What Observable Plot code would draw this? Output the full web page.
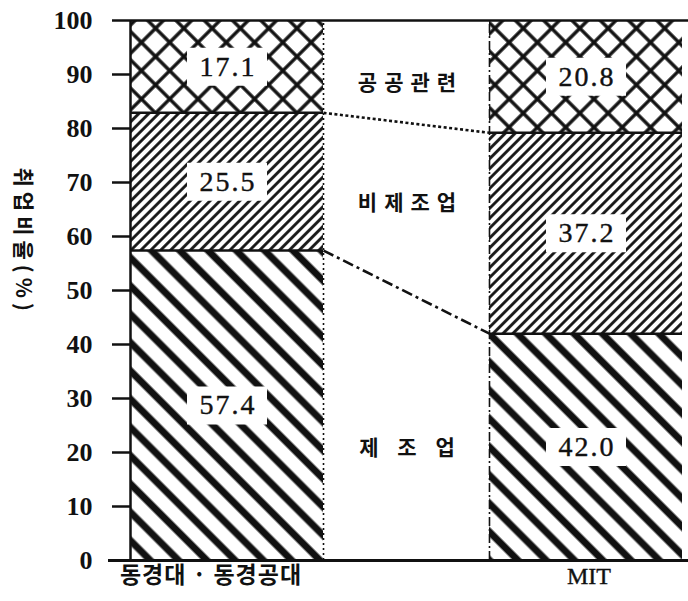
<!DOCTYPE html>
<html><head><meta charset="utf-8">
<script src="https://cdn.jsdelivr.net/npm/d3@7"></script>
<script src="https://cdn.jsdelivr.net/npm/@observablehq/plot@0.6"></script>
<style>body{margin:0;background:#fff}#chart svg{display:block}</style>
</head><body><div id="chart"></div>
<script>
// ---- data ----
const schools = ["동경대 · 동경공대", "MIT"];
const sectors = ["제 조 업", "비제조업", "공공관련"];
const manufacturing = [57.4, 42.0];
const nonManufacturing = [25.5, 37.2];
const publicRelated = [17.1, 20.8];
const yTicks = [0, 10, 20, 30, 40, 50, 60, 70, 80, 90, 100];
const yLabel = "취업비율(%)";

// ---- derived tables ----
const series = [manufacturing, nonManufacturing, publicRelated];
const gap = 0.86; // layout: gap between the two bars in bar widths
const rows = [];
schools.forEach((school, i) => {
  let cum = 0;
  series.forEach((vals, j) => {
    const v = vals[i];
    rows.push({school, sector: sectors[j], i, j,
      x1: i * (1 + gap), x2: i * (1 + gap) + 1, y1: cum, y2: cum + v, value: v});
    cum += v;
  });
});
const seg = (i, j) => rows.find(r => r.i === i && r.j === j);
const links = [0, 1].map(j => ({j, x1: 1, x2: 1 + gap, y1: seg(0, j).y2, y2: seg(1, j).y2}));
const mids = sectors.map((s, j) => ({
  sector: s, j, x: 1 + gap / 2,
  y: ((seg(0, j).y1 + seg(0, j).y2) / 2 + (seg(1, j).y1 + seg(1, j).y2) / 2) / 2
}));
const schoolPos = schools.map((s, i) => ({school: s, i, x: i * (1 + gap) + 0.5}));

// ---- styles ----
const patternIds = ["pat-m", "pat-n", "pat-p"];
const midOffsets = [22, -4, 12];
const linkDash = ["11,4,3,4", "3,2.5"];
const serif = "'Liberation Serif', 'DejaVu Serif', serif";
const kr = "'Noto Sans CJK KR', sans-serif";
const boxSymbol = {draw(ctx) { ctx.rect(-40, -19, 80, 38); }};
const spacing = {"values": 2, "mid": 7, "ylabel": 5, "school": 1};

const marks = [];
sectors.forEach((s, j) => {
  marks.push(Plot.rect(rows.filter(r => r.j === j), {x1: "x1", x2: "x2", y1: "y1", y2: "y2", fill: `url(#${patternIds[j]})`}));
});
marks.push(
  Plot.ruleY(rows.filter(r => r.j < 2), {y: "y2", x1: "x1", x2: "x2", strokeWidth: 2.5}),
  Plot.ruleX([1], {y1: 0, y2: 100, strokeWidth: 1.6, strokeDasharray: "2,3"}),
  Plot.ruleX([1 + gap], {y1: 0, y2: 100, strokeWidth: 1.6, strokeDasharray: "9,3,2,3"}),
  Plot.ruleX([0], {y1: 0, y2: 100, strokeWidth: 2.5}),
  Plot.ruleY([100], {strokeWidth: 2.5, insetRight: -6}),
  Plot.ruleY([0], {strokeWidth: 2.8, insetLeft: -22, insetRight: -6}),
  ...links.map(l => Plot.link([l], {x1: "x1", x2: "x2", y1: "y1", y2: "y2", strokeWidth: 2.6, strokeDasharray: linkDash[l.j]})),
  Plot.dot(rows, {x: d => (d.x1 + d.x2) / 2, y: d => (d.y1 + d.y2) / 2, symbol: boxSymbol, fill: "white", stroke: null, r: 10}),
  Plot.text(rows, {x: d => (d.x1 + d.x2) / 2, y: d => (d.y1 + d.y2) / 2, text: d => d.value.toFixed(1),
    dx: 1, fontFamily: serif, fontSize: 28, fill: "#111", stroke: "#111", strokeWidth: 0.4, ariaLabel: () => "values"}),
  ...mids.map(m => Plot.text([m], {x: "x", y: "y", text: "sector", dy: midOffsets[m.j], dx: 4,
    fontFamily: kr, fontWeight: "bold", fontSize: 21, fill: "#111", ariaLabel: () => "mid"})),
  Plot.text(schoolPos.filter(d => d.i === 0), {x: "x", frameAnchor: "bottom", dy: 22, dx: -16, text: "school",
    fontFamily: kr, fontWeight: "bold", fontSize: 23, fill: "#111", ariaLabel: () => "school"}),
  Plot.text(schoolPos.filter(d => d.i === 1), {x: "x", frameAnchor: "bottom", dy: 23, dx: 3, text: "school",
    fontFamily: serif, fontSize: 24, fill: "#111", stroke: "#111", strokeWidth: 0.4}),
  Plot.text([yLabel], {frameAnchor: "left", dx: -108, dy: -123, rotate: 90, text: d => d,
    fontFamily: kr, fontWeight: "bold", fontSize: 21, fill: "#111", ariaLabel: () => "ylabel"}),
  Plot.axisY(yTicks, {tickSize: 18, tickPadding: 20, strokeWidth: 2.5, fontFamily: serif, fontWeight: "bold",
    fontSize: 26, fill: "#111", label: null})
);

const plot = Plot.plot({
  width: 688, height: 601,
  marginTop: 20, marginBottom: 41, marginLeft: 130, marginRight: 6,
  x: {domain: [0, 2 + gap], axis: null},
  y: {domain: [0, 100], axis: null},
  style: {background: "white", color: "#111", overflow: "visible"},
  marks
});

// pattern definitions
const svg = d3.select(plot);
const defs = svg.insert("defs", ":first-child");
function hatch(id, size, angle, sw) {
  const p = defs.append("pattern").attr("id", id).attr("patternUnits", "userSpaceOnUse")
    .attr("width", size).attr("height", size).attr("patternTransform", `rotate(${angle})`);
  p.append("rect").attr("width", size).attr("height", size).attr("fill", "white");
  p.append("line").attr("x1", size / 2).attr("x2", size / 2).attr("y1", 0).attr("y2", size)
    .attr("stroke", "#111").attr("stroke-width", sw);
  return p;
}
hatch("pat-m", 20, -45, 7);
hatch("pat-n", 7, 45, 2.8);
const pc = hatch("pat-p", 20, 45, 3.4);
pc.append("line").attr("x1", 0).attr("x2", 20).attr("y1", 10).attr("y2", 10)
  .attr("stroke", "#111").attr("stroke-width", 3.4);

// letter spacing for text groups
Object.entries(spacing).forEach(([k, v]) => {
  svg.selectAll(`[aria-label="${k}"]`).each(function() {
    const el = d3.select(this);
    (this.tagName === "text" ? el : el.selectAll("text")).style("letter-spacing", `${v}px`);
  });
});

document.getElementById("chart").appendChild(plot);
</script>
</body></html>
